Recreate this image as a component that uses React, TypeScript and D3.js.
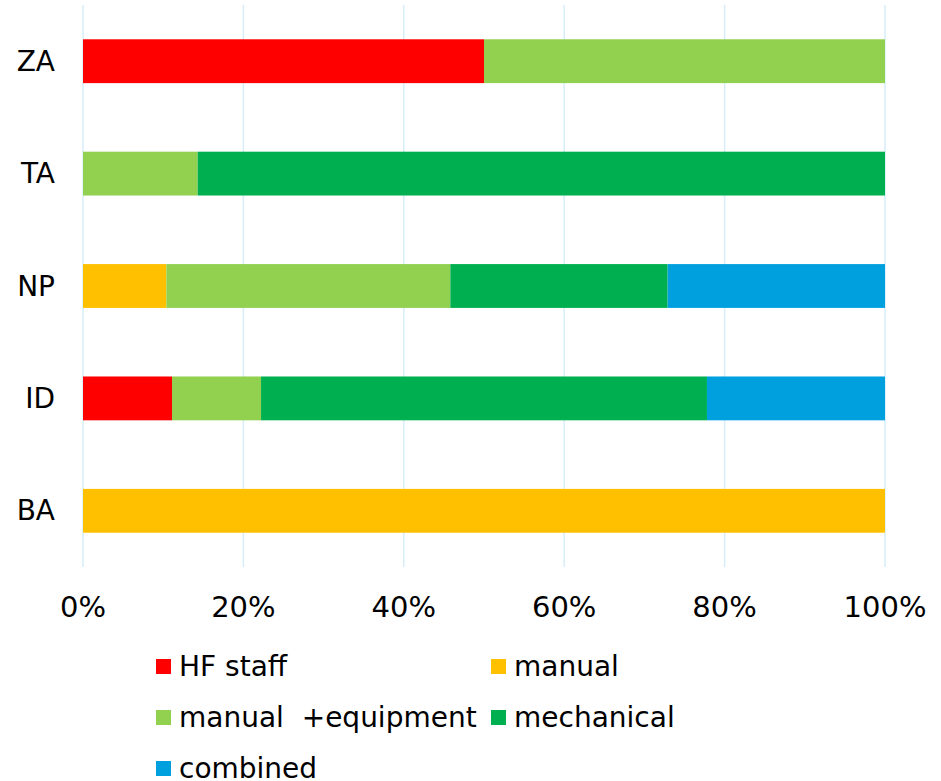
import React from "react";
import * as d3 from "d3";

const categories = ["ZA", "TA", "NP", "ID", "BA"];
const seriesNames = ["HF staff", "manual", "manual  +equipment", "mechanical", "combined"];
const seriesColors = ["#FF0000", "#FFC000", "#92D050", "#00B050", "#00A0DF"];
// values per category, in order of seriesNames (percent)
const hfStaff = [50, 0, 0, 11.1, 0];
const manual = [0, 0, 10.4, 0, 100];
const manualEquipment = [50, 14.3, 35.4, 11.1, 0];
const mechanical = [0, 85.7, 27.1, 55.6, 0];
const combined = [0, 0, 27.1, 22.2, 0];
const xTicks = [0, 20, 40, 60, 80, 100];

const W = 941;
const H = 781;
const FONT = "'DejaVu Sans', Verdana, sans-serif";

export default function App() {
  const seriesValues = [hfStaff, manual, manualEquipment, mechanical, combined];
  const rows = categories.map((c, i) => {
    const r: any = { cat: c };
    seriesNames.forEach((s, j) => (r[s] = seriesValues[j][i]));
    return r;
  });
  const stack = d3.stack<any>().keys(seriesNames)(rows);

  const x = d3.scaleLinear().domain([0, 100]).range([83, 885]);
  const y = d3
    .scaleBand<string>()
    .domain(categories)
    .range([5, 567])
    .paddingInner(0.61)
    .paddingOuter(0.305);

  const legendItems = seriesNames.map((name, i) => ({
    name,
    color: seriesColors[i],
    col: i % 2,
    row: Math.floor(i / 2),
  }));

  return (
    <svg
      width={W}
      height={H}
      style={{ position: "absolute", left: 0, top: 0, background: "#fff" }}
      fontFamily={FONT}
    >
      {xTicks.map((t) => (
        <line
          key={t}
          x1={x(t)}
          x2={x(t)}
          y1={5}
          y2={567}
          stroke="#D6EEF9"
          strokeWidth={1.5}
        />
      ))}
      {stack.map((layer, si) => (
        <g key={layer.key} fill={seriesColors[si]}>
          {layer.map((d, i) =>
            d[1] - d[0] > 0 ? (
              <rect
                key={i}
                x={x(d[0])}
                width={x(d[1]) - x(d[0])}
                y={y(categories[i])}
                height={y.bandwidth()}
              />
            ) : null
          )}
        </g>
      ))}
      {categories.map((c) => (
        <text
          key={c}
          x={55}
          y={(y(c) as number) + y.bandwidth() / 2}
          textAnchor="end"
          dominantBaseline="central"
          fontSize={28}
          fill="#000"
        >
          {c}
        </text>
      ))}
      {xTicks.map((t) => (
        <text
          key={t}
          x={x(t)}
          y={617}
          textAnchor="middle"
          fontSize={29}
          fill="#000"
        >
          {t + "%"}
        </text>
      ))}
      {legendItems.map((it) => {
        const lx = it.col === 0 ? 156 : 491;
        const by = 676 + it.row * 51;
        return (
          <g key={it.name}>
            <rect x={lx} y={by - 17} width={15} height={15} fill={it.color} />
            <text x={lx + 23} y={by} fontSize={28} fill="#000" style={{ whiteSpace: "pre" }}>
              {it.name}
            </text>
          </g>
        );
      })}
    </svg>
  );
}
